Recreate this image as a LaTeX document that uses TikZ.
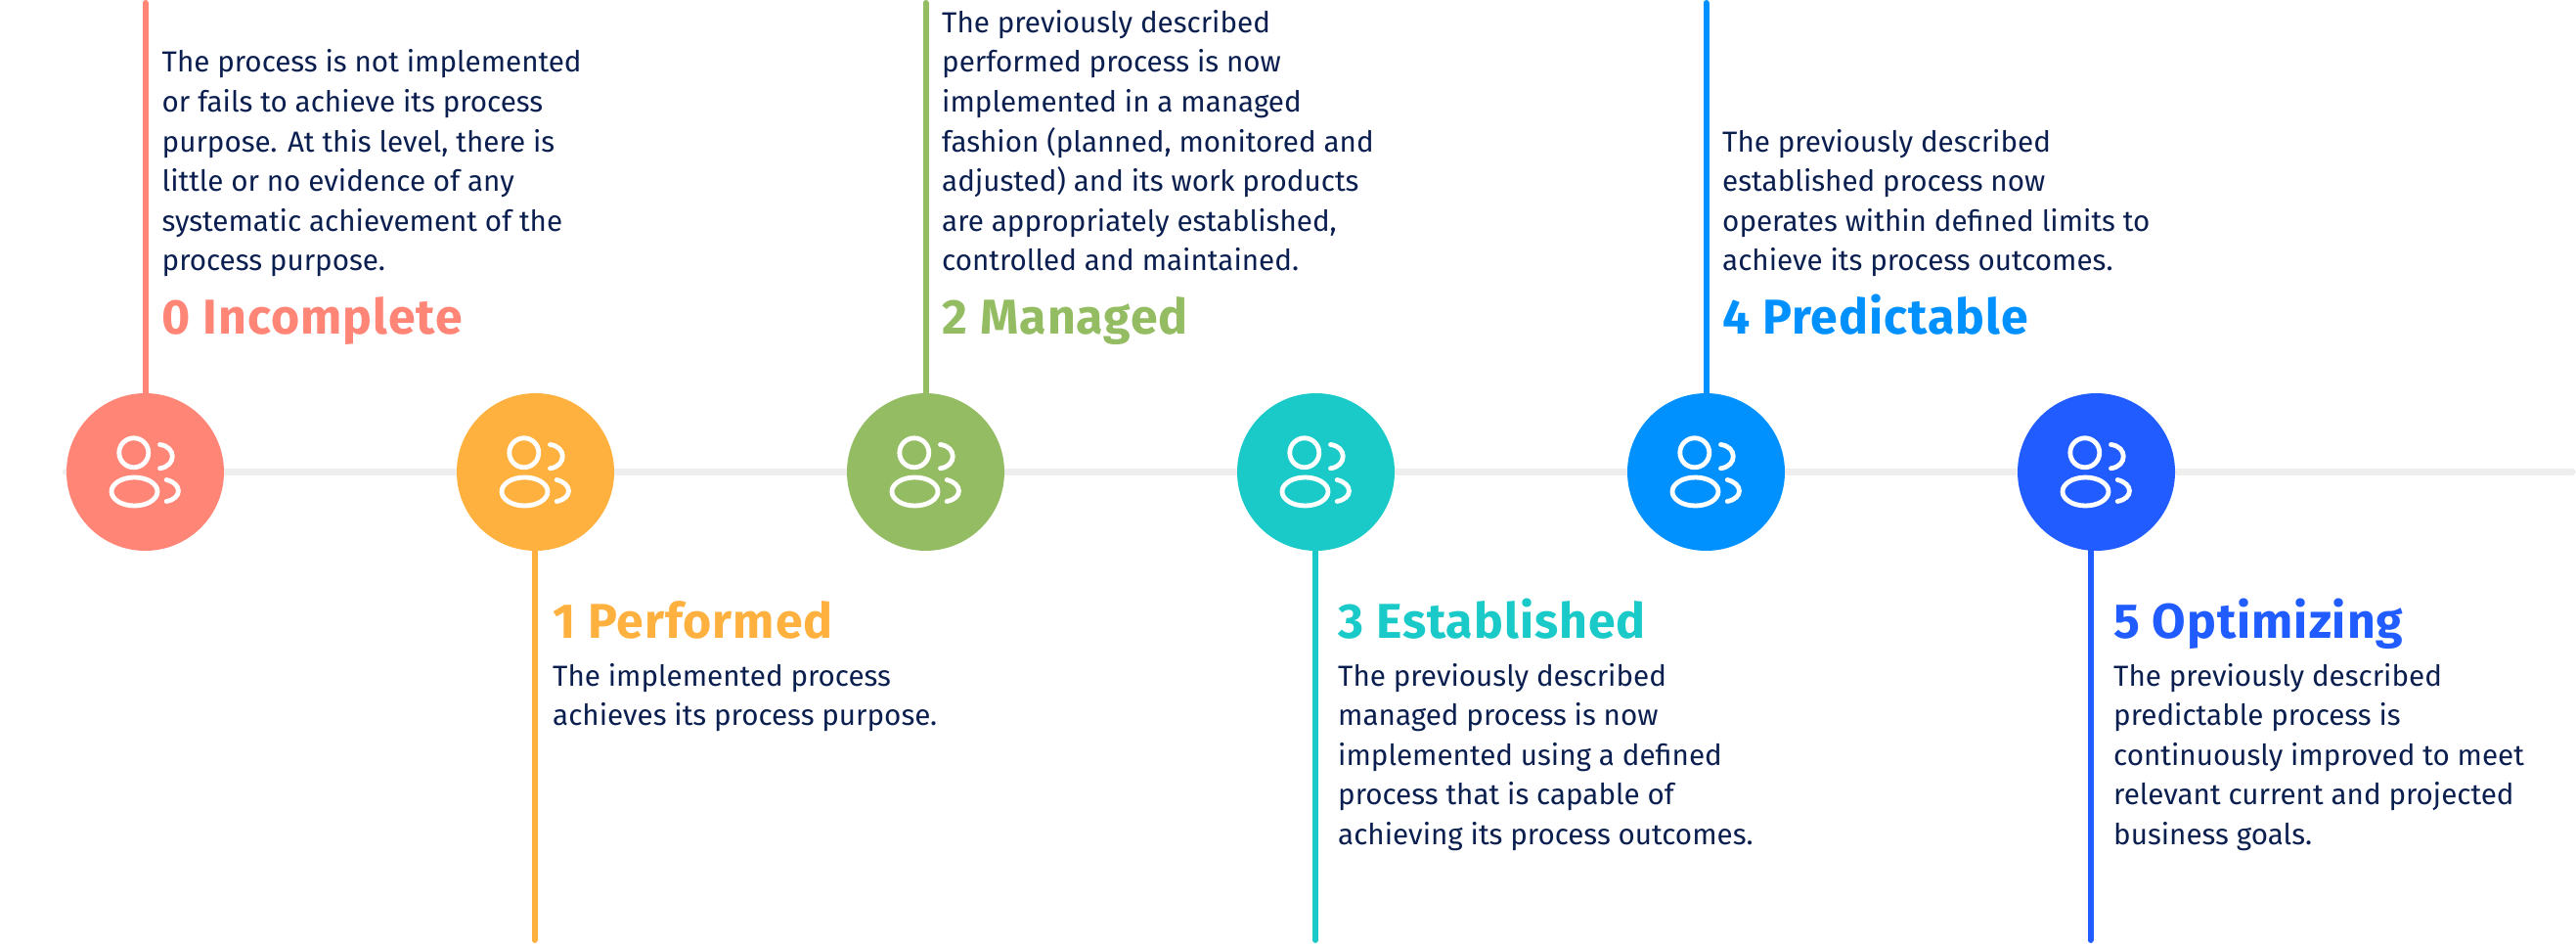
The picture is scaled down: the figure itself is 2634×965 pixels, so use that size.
\documentclass[tikz,border=0pt]{standalone}
\usepackage{fontspec}
\setmainfont{Fira Sans}
\newfontfamily\headingfont[LetterSpace=2]{Fira Sans}
\definecolor{ink}{HTML}{0A1F4F}
\definecolor{axisgrey}{HTML}{EEEEEE}
\definecolor{lvlzero}{HTML}{FF8577}
\definecolor{lvlone}{HTML}{FFB13F}
\definecolor{lvltwo}{HTML}{94BC62}
\definecolor{lvlthree}{HTML}{19CAC8}
\definecolor{lvlfour}{HTML}{0091FF}
\definecolor{lvlfive}{HTML}{205CFF}
\tikzset{
  x=1pt,y=-1pt,
  levelcircle/.style={circle,minimum size=161pt,inner sep=0pt,fill=#1},
  stem/.style={line width=6pt,line cap=round,#1},
  axisline/.style={line width=7.5pt,line cap=round,axisgrey},
  heading/.style={anchor=base west,inner sep=0pt,text=#1,font=\headingfont\fontsize{50}{50}\selectfont\bfseries},
  bodytext/.style={anchor=base west,inner sep=0pt,text=ink,align=left,font=\fontsize{29.6}{40.6}\selectfont},
  peopleicon/.style={white,line width=4.8pt,line cap=round}
}
% Two-person glyph centred on a level circle
\newcommand{\peopleglyph}[1]{%
  \draw[peopleicon] ([shift={(-11.7,-19.7)}]#1.center) circle[radius=15];
  \draw[peopleicon] ([shift={(-11,20)}]#1.center) ellipse[x radius=23.5,y radius=14.5];
  \draw[peopleicon] ([shift={(15,-28)}]#1.center) .. controls ([shift={(32,-26)}]#1.center) and ([shift={(32,-6)}]#1.center) .. ([shift={(15,-3.7)}]#1.center);
  \draw[peopleicon] ([shift={(21.7,8)}]#1.center) .. controls ([shift={(38,12)}]#1.center) and ([shift={(38,27)}]#1.center) .. ([shift={(21.7,30)}]#1.center);
}
\begin{document}
\begin{tikzpicture}
\useasboundingbox (0,0) rectangle (2634,965);
\coordinate (axisstart) at (67.5,482.5);
\coordinate (axisend) at (2630,482.5);
\draw[axisline] (axisstart) -- (axisend);

\node[levelcircle=lvlzero]  (c0) at (148.5,482.5) {};
\node[levelcircle=lvlone]   (c1) at (547.5,482.5) {};
\node[levelcircle=lvltwo]   (c2) at (946.5,482.5) {};
\node[levelcircle=lvlthree] (c3) at (1345.5,482.5) {};
\node[levelcircle=lvlfour]  (c4) at (1744.5,482.5) {};
\node[levelcircle=lvlfive]  (c5) at (2143.5,482.5) {};

\foreach \n in {c0,c1,c2,c3,c4,c5}{\peopleglyph{\n}}

\coordinate (end0) at (148.5,3);
\coordinate (end1) at (546.5,961);
\coordinate (end2) at (946.5,3);
\coordinate (end3) at (1345,961);
\coordinate (end4) at (1744.5,3);
\coordinate (end5) at (2137.5,961);
\draw[stem=lvlzero]  (c0.north -| end0) -- (end0);
\draw[stem=lvlone]   (c1.south -| end1) -- (end1);
\draw[stem=lvltwo]   (c2.north -| end2) -- (end2);
\draw[stem=lvlthree] (c3.south -| end3) -- (end3);
\draw[stem=lvlfour]  (c4.north -| end4) -- (end4);
\draw[stem=lvlfive]  (c5.south -| end5) -- (end5);

\node[heading=lvlzero]  (h0) at (165.5,341.5) {0 Incomplete};
\node[heading=lvlone]   (h1) at (565,652) {1 Performed};
\node[heading=lvltwo]   (h2) at (963.5,341.5) {2 Managed};
\node[heading=lvlthree] (h3) at (1368,652) {3 Established};
\node[heading=lvlfour]  (h4) at (1761,341.5) {4 Predictable};
\node[heading=lvlfive]  (h5) at (2161,652) {5 Optimizing};

\node[bodytext] (b0) at (165.5,277) {The process is not implemented\\or fails to achieve its process\\purpose. At this level, there is\\little or no evidence of any\\systematic achievement of the\\process purpose.};
\node[bodytext] (b1) at (565,741.6) {The implemented process\\achieves its process purpose.};
\node[bodytext] (b2) at (963,277) {The previously described\\performed process is now\\implemented in a managed\\fashion (planned, monitored and\\adjusted) and its work products\\are appropriately established,\\controlled and maintained.};
\node[bodytext] (b3) at (1368,863.4) {The previously described\\managed process is now\\implemented using a defined\\process that is capable of\\achieving its process outcomes.};
\node[bodytext] (b4) at (1761,277) {The previously described\\established process now\\operates within defined limits to\\achieve its process outcomes.};
\node[bodytext] (b5) at (2161,863.4) {The previously described\\predictable process is\\continuously improved to meet\\relevant current and projected\\business goals.};
\end{tikzpicture}
\end{document}
